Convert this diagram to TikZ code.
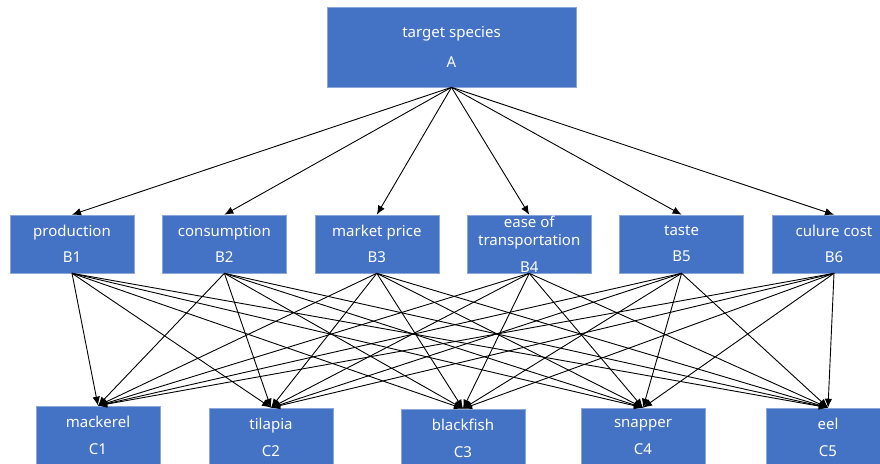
\documentclass[tikz,border=0pt]{standalone}
\usepackage{fontspec}
\setmainfont{Noto Sans}
\usetikzlibrary{arrows.meta,positioning}

\definecolor{boxblue}{HTML}{4472C4}
\definecolor{boxedge}{HTML}{8AA6DA}

\begin{document}
\begin{tikzpicture}[x=1pt,y=-1pt]
            \tikzset{
              box/.style={rectangle, fill=boxblue, draw=boxedge, line width=0.6pt,
                text=white, align=center, inner ysep=0pt,
                minimum width=124, minimum height=58,
                font=\fontsize{15}{18}\selectfont},
              topbox/.style={box, minimum width=249, minimum height=80},
              arr/.style={-{Latex[length=9pt,width=7.5pt]}, line width=0.9pt, black},
            }
            \clip (0,0) rectangle (880,463);
            \node[topbox] (a) at (451.5,47) {target species\\[12pt]A};
            \node[box] (b1) at (72,244) {production\\[8pt]B1};
            \node[box, right=27.8pt of b1] (b2) {consumption\\[8pt]B2};
            \node[box, right=27.8pt of b2] (b3) {market price\\[8pt]B3};
            \node[box, right=27.8pt of b3] (b4) {ease of\\transportation\\[9pt]B4};
            \node[box, right=27.8pt of b4] (b5) {taste\\[8pt]B5};
            \node[box, right=27.8pt of b5] (b6) {culure cost\\[8pt]B6};
            \node[box] (c1) at (98,435) {mackerel\\[9pt]C1};
            \node[box] (c2) at (271,437) {tilapia\\[9pt]C2};
            \node[box] (c3) at (463,438) {blackfish\\[9pt]C3};
            \node[box] (c4) at (643,437) {snapper\\[9pt]C4};
            \node[box] (c5) at (828,437) {eel\\[9pt]C5};
            \foreach \i in {1,...,6}
              \draw[arr] (a.south) -- (b\i.north);
            \foreach \i in {1,...,6}
              \foreach \j in {1,...,5}
                \draw[arr] (b\i.south) -- (c\j.north);
          \end{tikzpicture}
\end{document}
